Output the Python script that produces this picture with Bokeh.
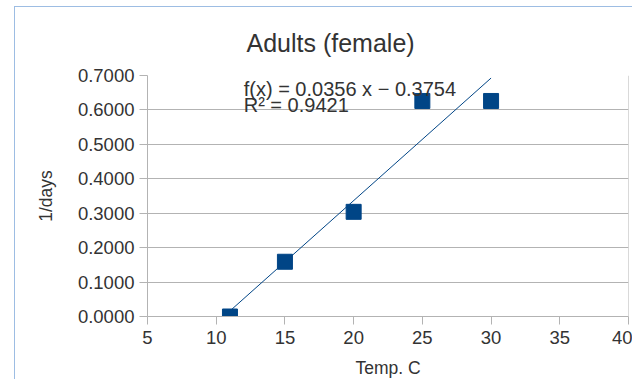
from bokeh.plotting import figure
from bokeh.models import Range1d, NumeralTickFormatter, Span, FixedTicker
from bokeh.core.properties import value
from bokeh.embed import file_html
from bokeh.resources import INLINE

# ---- data ----
temps = [11, 15, 20, 25, 30]
rates = [0.0, 0.159, 0.304, 0.626, 0.626]
slope = 0.0356
intercept = -0.3754
r_squared = 0.9421
x_ticks = [5, 10, 15, 20, 25, 30, 35, 40]
y_ticks = [0.0, 0.1, 0.2, 0.3, 0.4, 0.5, 0.6, 0.7]
title_text = "Adults (female)"
x_label = "Temp. C"
y_label = "1/days"

FONT = "Liberation Sans"
TXT = "#333333"
GRID = "#b3b3b3"
BLUE = "#004586"
FRAME = "#9dbde3"

p = figure(width=618, height=373,
           x_range=Range1d(5, 40), y_range=Range1d(0, 0.7),
           output_backend="svg", toolbar_location=None,
           min_border_left=132, min_border_right=5,
           min_border_top=68, min_border_bottom=63)
p.styles = {"margin-left": "14px", "margin-top": "6px",
            "border-left": f"1px solid {FRAME}", "border-top": f"1px solid {FRAME}"}
p.outline_line_color = None
p.background_fill_color = "white"
p.border_fill_color = "white"

# title
p.title.text = title_text
p.title.text_font = FONT
p.title.text_font_size = "25px"
p.title.text_font_style = "normal"
p.title.text_color = TXT
p.title.align = "left"
p.title.offset = 99
p.title.standoff = 37

# axes
for ax in (p.xaxis[0], p.yaxis[0]):
    ax.axis_line_color = GRID
    ax.major_tick_line_color = GRID
    ax.major_tick_out = 8
    ax.major_tick_in = 0
    ax.minor_tick_line_color = None
    ax.major_label_text_font = FONT
    ax.major_label_text_font_size = "18.5px"
    ax.major_label_text_color = TXT
    ax.axis_label_text_font = FONT
    ax.axis_label_text_font_size = "17.5px"
    ax.axis_label_text_font_style = "normal"
    ax.axis_label_text_color = TXT

p.xaxis.ticker = FixedTicker(ticks=x_ticks)
p.yaxis.ticker = FixedTicker(ticks=y_ticks)
p.yaxis.formatter = NumeralTickFormatter(format="0.0000")
p.xaxis.axis_label = x_label
p.yaxis.axis_label = y_label
p.yaxis.major_label_standoff = 5
p.xaxis.major_label_standoff = 6
p.yaxis.axis_label_standoff = 19
p.xaxis.axis_label_standoff = 11

p.xgrid.visible = False
p.ygrid.grid_line_color = GRID
p.ygrid.ticker = FixedTicker(ticks=y_ticks)
p.add_layout(Span(location=x_ticks[-1], dimension="height", line_color=GRID, line_width=1))

# trend line
x_fit = [min(temps), max(temps)]
y_fit = [slope * x + intercept for x in x_fit]
p.line(x_fit, y_fit, line_color=BLUE, line_width=1)

# points
p.scatter(temps, rates, marker="square", size=15, fill_color=BLUE, line_color=BLUE)

# equation
eq = f"f(x) = {slope:.4f} x \u2212 {abs(intercept):.4f}"
r2 = f"R\u00b2 = {r_squared:.4f}"
p.text(x=[12, 12], y=[0.6596, 0.6134], text=[eq, r2],
       text_font=value(FONT), text_font_size="20px", text_color=TXT,
       text_align="left", text_baseline="middle")

open("out.html", "w").write(file_html(p, INLINE))
